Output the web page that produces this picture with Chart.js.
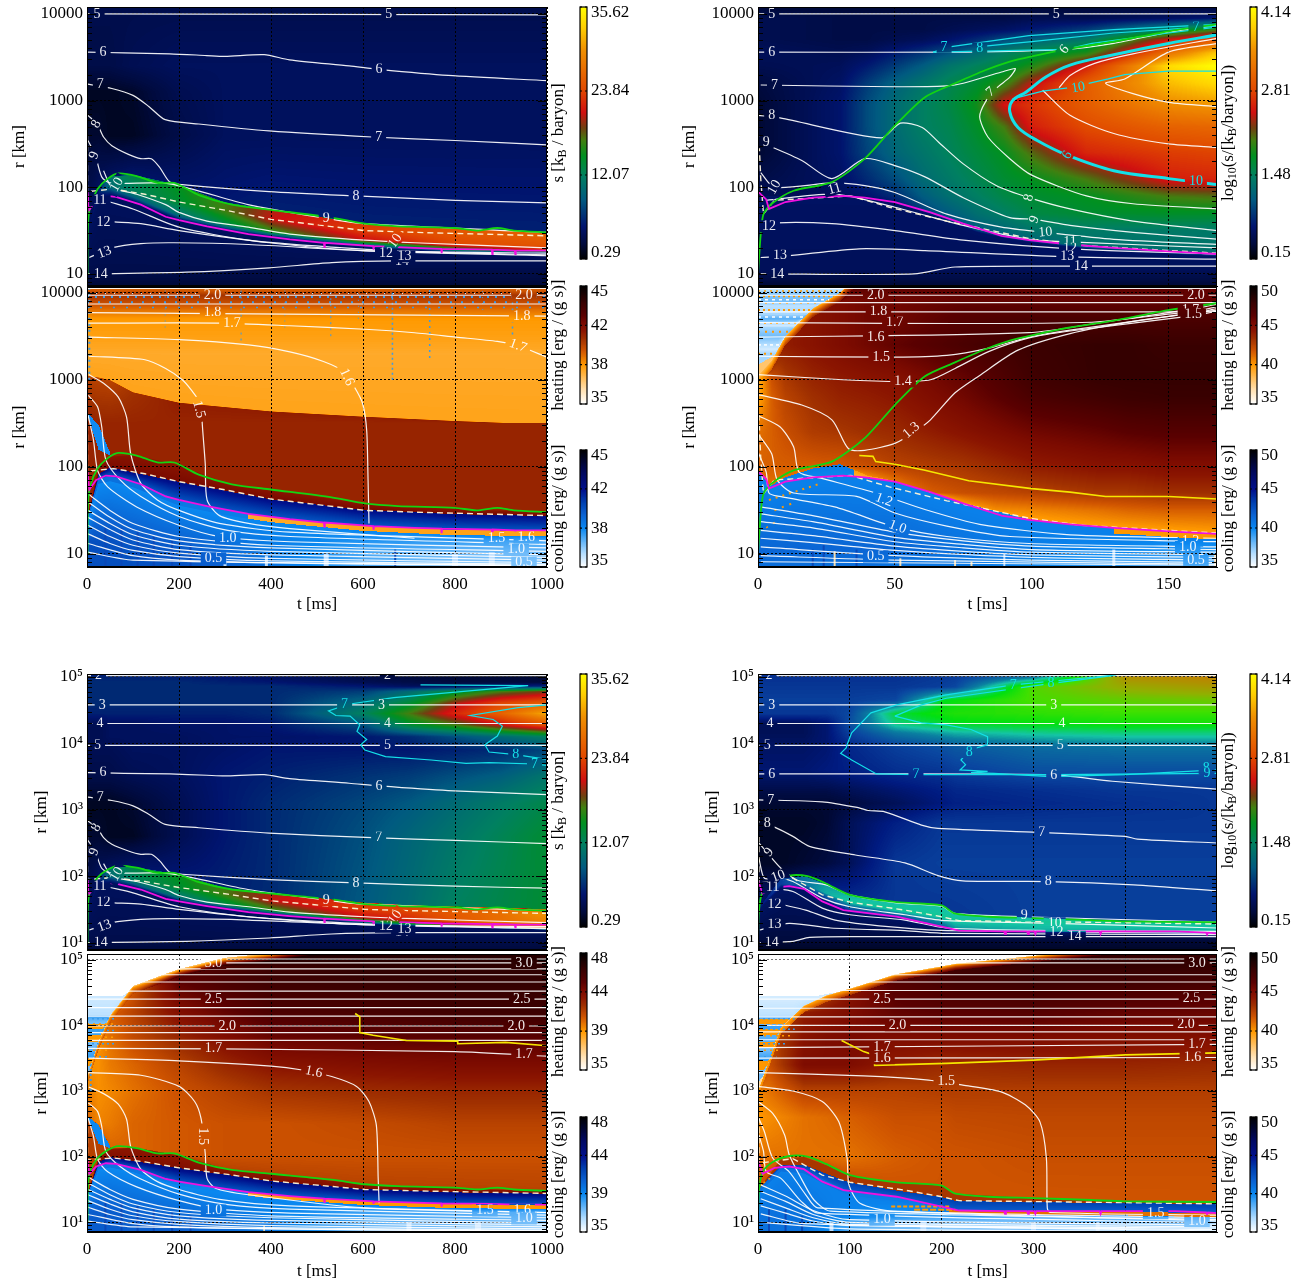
<!DOCTYPE html>
<html>
<head>
<meta charset="utf-8">
<script src="https://cdn.jsdelivr.net/npm/chart.js@4"></script>
<style>
body { margin: 0; background: #fff; width: 1306px; height: 1283px; overflow: hidden; }
canvas { position: absolute; }
</style>
</head>
<body>
<script>
const serif = '"Liberation Serif", serif';

// axis and colour bar ticks
const t1000Ticks = [0,200,400,600,800,1000];
const t168Ticks = [0,50,100,150];
const t500Ticks = [0,100,200,300,400];
const sTicks = [0.29, 12.07, 23.84, 35.62];
const logsTicks = [0.15, 1.48, 2.81, 4.14];
const q45Ticks = [35, 38.33, 41.67, 45];
const q50Ticks = [35, 40, 45, 50];
const q48Ticks = [35, 39.33, 43.67, 48];

// colour maps, fraction of the bar and colour
const entropyStops = [[0,'#000000'],[.06,'#000a3c'],[.13,'#00146e'],[.235,'#005a80'],[.33,'#008060'],[.41,'#009020'],[.47,'#408010'],[.52,'#704010'],[.58,'#d01010'],[.67,'#e04800'],[.83,'#f09000'],[.92,'#ffd000'],[1,'#ffff00']];
const brightStops = [[0,'#000000'],[.06,'#000a3c'],[.13,'#001a80'],[.2,'#0a46a0'],[.28,'#0a80a0'],[.33,'#14c4a4'],[.41,'#00e010'],[.47,'#40e000'],[.55,'#90b000'],[.65,'#c08000'],[.8,'#e05000'],[1,'#ffff00']];
const heatStops = [[0,'#ffffff'],[.12,'#ffe0b0'],[.33,'#ff9900'],[.45,'#d05500'],[.55,'#a03000'],[.62,'#8b1500'],[.68,'#7a0a00'],[.75,'#5a0000'],[.85,'#3a0000'],[1,'#000000']];
const coolStops = [[0,'#ffffff'],[.12,'#b0dcff'],[.33,'#0a88f0'],[.45,'#0a60d0'],[.55,'#0040b0'],[.66,'#00108c'],[.8,'#000860'],[1,'#000000']];

// model 1, 0 to 1000 ms, r up to 1e4 km
const aT = [0,25,50,100,200,300,400,600,800,1000];
const aGreenK = [1.4,1.99,2.12,2.14,2.02,1.82,1.74,1.58,1.52,1.48];
const aMagK = [1.4,1.87,1.90,1.83,1.62,1.51,1.43,1.33,1.28,1.27];
const aDashK = [1.4,1.92,2.0,1.94,1.83,1.73,1.63,1.51,1.46,1.44];
const aGreen = [1,1.0,2,1.55,7,1.78,23,1.98,45,2.10,68,2.16,108,2.13,153,2.05,190,2.05,243,1.91,315,1.80,400,1.74,532,1.65,604,1.58,676,1.55,800,1.53,847,1.50,892,1.53,928,1.50,1000,1.48];
const aMagenta = [1,1.95,5,1.74,20,1.85,41,1.90,63,1.89,117,1.80,171,1.66,200,1.62,261,1.55,351,1.46,441,1.40,515,1.36,516,1.31,517,1.36,622,1.32,623,1.28,624,1.32,712,1.30,770,1.29,771,1.24,772,1.29,880,1.28,881,1.23,882,1.28,930,1.27,931,1.23,932,1.27,1000,1.27];
const aDash = [1,2.6,1,1.95,58,1.98,126,1.92,200,1.83,306,1.73,400,1.63,495,1.57,604,1.50,712,1.48,1000,1.44];

const a6 = [2,3.56,80,3.55,180,3.54,260,3.52,300,3.51,385,3.53,440,3.47,570,3.40,635,3.36,785,3.29,1000,3.23];
const a7 = [2,3.19,54,3.14,100,3.06,135,2.93,170,2.78,243,2.73,396,2.65,620,2.58,800,2.54,1000,2.49];
const a8 = [2,2.83,22,2.73,36,2.58,54,2.48,90,2.38,117,2.33,140,2.33,158,2.23,180,2.06,207,2.03,396,1.95,585,1.90,800,1.85,1000,1.82];
const a9 = [2,2.54,18,2.37,32,2.12,50,2.05,180,2.04,350,1.80,520,1.64,600,1.58,1000,1.48];
const a10 = [36,2.19,54,2.0,108,1.92,171,1.80,200,1.71,261,1.61,351,1.54,441,1.46,604,1.39,712,1.36,1000,1.30];
const a11 = [50,1.83,100,1.75,200,1.54,351,1.39,532,1.31,712,1.26,1000,1.24];
const a12 = [59,1.60,117,1.58,200,1.50,396,1.36,595,1.27,1000,1.21];
const a13 = [5,1.19,54,1.30,117,1.35,189,1.36,351,1.34,604,1.27,1000,1.22];
const a14 = [2,1.0,216,1.02,396,1.07,532,1.13,676,1.15,1000,1.15];
const aLower = [a6,a7,a8,a9,a10,a11,a12,a13,a14];
const aLabels = [['6',35,3.56],['6',635,3.36],['7',29,3.19],['7',634,2.58],['8',20,2.73,-60],['9',16,2.37,-70],['10',65,2.03,-60],['8',585,1.90],['9',520,1.64],['10',670,1.38,-55],['11',28,1.85],['12',36,1.60],['13',38,1.25,-20],['14',30,1.0],['14',685,1.15],['12',650,1.24],['13',690,1.2]];

const aRadii = [.8,1.05,off(aMagK,-.03),aMagK,off(aMagK,.06),aDashK,aGreenK,off(aGreenK,.008),2.6,3.1,3.4,4.1];
const aVals = [2,3.2,4,[4,4,4,4,4.5,5,5,8,14,22],[4,5,7,9,10.5,13,16,20.5,24,25],[4,5,10,12,14,17,20.5,23.5,25,26],[4,5,11,13,15,17,20,23,25,25.5],[4,4,4,4.5,4.5,5,5.5,5.5,5.5,5.5],[2,2,1.5,1.5,3,4,4,4,4,4],[1.5,1.5,1.5,1.8,3.4,4,4,4,4,4],[3,3,3,3.5,4,4,4,4,4,4],3.2];

// temperature contours for the 1000 ms heating panels
const c14 = [4,3.06,36,2.96,68,2.80,86,2.57,95,2.15,117,1.81,153,1.62,200,1.50,288,1.35,441,1.25,1000,1.15];
const c13 = [3,2.82,23,2.69,32,2.46,41,2.08,72,1.85,117,1.66,200,1.43,306,1.27,441,1.2,1000,1.11];
const c12 = [2,2.6,14,2.31,23,1.96,45,1.77,108,1.54,200,1.33,288,1.2,441,1.14,1000,1.07];
const cFamily = [
  [2,1.69,50,1.50,100,1.35,200,1.2,400,1.1,1000,1.03],
  [2,1.60,50,1.42,100,1.28,200,1.15,400,1.07,1000,.99],
  [2,1.50,50,1.35,100,1.22,200,1.1,400,1.03,1000,.96],
  [2,1.42,50,1.28,100,1.16,200,1.05,400,.99,1000,.93],
  [2,1.33,50,1.2,100,1.1,200,1.01,400,.95,1000,.90],
  [2,1.23,50,1.12,100,1.04,200,.97,400,.92,1000,.88],
  [2,1.12,100,.98,200,.93,400,.9,1000,.87],
  [2,1.02,100,.93,1000,.86]
];
const cTop = [
  [0,4.05,1000,4.05],[0,3.97,1000,3.97],[0,3.87,1000,3.87],[0,3.77,1000,3.73],
  [3,3.65,290,3.65,441,3.62,604,3.58,712,3.54,802,3.49,892,3.44,937,3.39,1000,3.26],
  [4,3.49,200,3.46,351,3.40,441,3.32,514,3.21,559,3.09,581,2.92,599,2.73,608,2.42,611,1.85,613,1.35],
  [4,3.27,126,3.23,171,3.13,207,3.0,227,2.88,250,2.70,250,2.54,257,2.04,261,1.62,288,1.44,351,1.35,441,1.29,712,1.18]
];
const cLabels = [['2.0',273,3.97],['2.0',950,3.97],['1.8',273,3.77],['1.8',945,3.73],['1.7',315,3.65],['1.7',937,3.39,20],['1.6',565,3.03,65],['1.5',243,2.66,75],['1.0',306,1.18],['0.5',275,.95],['1.5',890,1.18],['1.6',955,1.19],['1.0',933,1.05],['0.5',950,.9]];
const cBand = [3.05,3.03,3.0,2.86,2.74,2.69,2.64,2.58,2.53,2.49];
const wedgeLow = [2.62,2.2,2.13,1,1,1,1,1,1,1];
const wedgeHigh = [2.62,2.48,2.16,1,1,1,1,1,1,1];
const cRadii = [.8,1.0,1.15,off(aMagK,-.07),off(aMagK,-.06),off(aMagK,-.012),aMagK,off(aDashK,-.008),aDashK,off(aGreenK,-.01),off(aGreenK,.005),off(wedgeLow,-.005),wedgeLow,wedgeHigh,off(wedgeHigh,.005),2.5,off(cBand,-.008),cBand,3.3,3.5,3.7,3.8,3.87,3.97,4.02,4.1];
const cVals = [[-40,-40,-40,-40,-40,-39.5,-39,-37.5,-36.8,-36.8],[-40,-40,-40,-40,-39.8,-39.3,-38.8,-37.5,-37,-37],[-40,-40,-40,-39.8,-39.5,-39,-38.6,-38,-37.8,-37.5],-38.3,[-39,-39,-39,-39,-38.8,-38.6,37.8,38,38,38],[-39,-39,-39,-39,-38.8,-38.6,37.8,38,38,38],-40,-41.8,41.8,41.3,40.8,40.8,-38.2,-38.2,40.8,40.8,[40,40,40,40.5,41,41,41,41,41,41],38,37.8,38.1,38.3,39,39.6,40.4,39.5,38.8];
const cSpecks = [
  ['#3a9be8',[2,6],2,[0,3.95,1000,3.95]],['#3a9be8',[2,9],2,[0,3.89,1000,3.89]],['#3a9be8',[2,11],1.5,[0,3.83,1000,3.83]],['#cfe6ff',[1,8],1,[0,3.99,1000,3.99]],
  ['#3a9be8',[2,3],1.5,[664,3.0,664,4.05]],['#3a9be8',[2,4],1,[335,3.45,335,4.05]],['#3a9be8',[2,4],1,[530,3.5,530,4.05]],['#3a9be8',[2,4],1.5,[745,3.25,745,4.05]],['#3a9be8',[2,4],1.5,[925,3.45,925,4.05]],['#3a9be8',[2,4],2,[5,3.0,5,4.05]],['#3a9be8',[1,5],1,[170,3.6,170,4.05]],['#3a9be8',[1,5],1,[430,3.6,430,4.05]],['#3a9be8',[1,5],1,[590,3.7,590,4.05]],['#3a9be8',[1,5],1,[860,3.8,860,4.05]],
  ['#0a48b8',[],2,[40,.85,40,1.3]],['#0a48b8',[],2,[75,.85,75,1.3]],['#0a48b8',[],2,[110,.85,110,1.25]],['#0a48b8',[],2,[145,.85,145,1.2]],['#0a48b8',[],2,[185,.85,185,1.15]],['#0a48b8',[],2,[225,.85,225,1.1]],['#0a48b8',[],2,[670,.85,670,1.05]],
  ['#b8dcff',[],3,[300,.85,300,.95]],['#b8dcff',[],3,[390,.85,390,.98]],['#f2dcb0',[],1.5,[390,.85,390,.95]],['#b8dcff',[],5,[520,.85,520,1.0]],['#b8dcff',[],6,[800,.85,800,1.0]],['#b8dcff',[],6,[880,.85,880,1.02]]
];

// model 2, 0 to 168 ms
const bT = [0,30,40,50,60,70,80,90,100,120,150,168];
const bMagK = [1.9,1.90,1.88,1.83,1.74,1.63,1.51,1.44,1.39,1.32,1.26,1.23];
const bRadii = [.8,1.05,off(bMagK,-.03),bMagK,1.5,1.7,1.9,2.1,2.4,2.7,2.95,3.2,3.4,3.55,3.7,3.82,3.95,4.1];
const bVals = [.3,.55,.6,[.6,.6,.6,.7,.8,.9,1.0,1.1,1.2,1.3,1.3,1.3],
  [.55,.55,.6,.7,.85,1.0,1.1,1.2,1.35,1.4,1.4,1.4],
  [.55,.55,.6,.7,.9,1.1,1.3,1.45,1.6,1.7,1.75,1.75],
  [.5,.55,.65,.8,1.1,1.3,1.45,1.6,1.7,1.8,2.05,2.1],
  [.45,.6,.8,1.0,1.25,1.4,1.55,1.7,1.8,2.05,2.55,2.6],
  [.35,.65,.95,1.2,1.35,1.5,1.65,1.8,2.1,2.6,2.75,2.8],
  [.35,.65,1.0,1.25,1.45,1.55,1.75,2.05,2.55,2.85,3.05,3.1],
  [.35,.65,1.0,1.25,1.45,1.6,1.85,2.5,2.7,3.0,3.4,3.5],
  [.4,.6,.9,1.15,1.35,1.55,1.7,1.95,2.4,3.0,3.7,3.9],
  [.5,.55,.7,.9,1.1,1.35,1.5,1.65,1.9,2.55,3.9,4.14],
  [.55,.5,.55,.7,.85,1.05,1.25,1.45,1.6,1.9,3.2,3.8],
  [.5,.45,.45,.5,.55,.65,.8,1.0,1.15,1.4,2.5,3.0],
  [.5,.45,.45,.45,.45,.5,.55,.6,.7,.9,1.5,2.0],
  [.5,.45,.45,.45,.45,.45,.45,.45,.5,.5,.6,.7],.35];
const bGreen = [0,1.0,1,1.46,2,1.69,5,1.81,13,1.96,27,2.06,39,2.33,50,2.71,61,3.04,72,3.2,83,3.35,92,3.45,100,3.51,114,3.60,130,3.68,150,3.80,168,3.88];
const bMagenta = [0,1.95,3,1.86,4,1.75,10,1.83,20,1.88,31,1.90,39,1.88,50,1.83,63,1.71,75,1.58,89,1.44,99,1.39,114,1.34,130,1.30,150,1.26,168,1.23];
const bDash = [.3,2.6,1,2.1,2,1.69,6,1.85,34,1.90,48,1.77,69,1.61,99,1.41,118,1.33,150,1.27,168,1.24];
const bWhite = [
  [0,4,168,4],
  [0,3.56,76,3.56,112,3.59,130,3.66,150,3.79,168,3.87],
  [1,3.18,50,3.16,69,3.17,75,3.2,89,3.33,94,3.37,92,3.27,87,3.14,83,2.98,81,2.81,84,2.58,92,2.33,100,2.14,120,1.9,137,1.81,168,1.75],
  [0,2.83,8,2.80,45,2.57,52,2.74,60,2.69,66,2.52,75,2.27,87,2.02,99,1.88,114,1.75,137,1.61,168,1.5],
  [1,2.52,16,2.31,27,2.10,39,2.33,50,2.25,61,2.12,75,1.88,92,1.65,101,1.63,114,1.56,137,1.48,168,1.40],
  [1,2.17,6,2.0,27,2.05,39,2.02,50,1.94,69,1.69,89,1.54,105,1.48,130,1.40,168,1.34],
  [3,1.85,28,1.92,50,1.77,75,1.56,99,1.40,114,1.37,168,1.30],
  [1,1.54,7,1.59,27,1.58,50,1.50,75,1.39,114,1.29,168,1.23],
  [1,1.19,11,1.21,37,1.29,61,1.27,111,1.20,168,1.17],
  [1,1.0,57,1.0,72,1.08,114,1.09,168,1.09],
  [110,3.15,114,3.29,123,3.43,137,3.54,168,3.72],
  [168,3.66,150,3.56,134,3.25,127,3.20,137,3.08,150,2.98,168,2.93],
  [104,3.12,114,2.83,130,2.62,150,2.50,168,2.46]
];
const bCyanThin = [
  [64,3.56,70,3.62,99,3.75,130,3.82,168,3.88],
  [80,3.62,100,3.68,130,3.78,168,3.86],
  [64,3.56,112,3.59,122,3.66,150,3.78,168,3.85],
  [93,3.02,104,3.11,114,3.15,128,3.25,134,3.30,150,3.34,168,3.34]
];
const bArc = [168,3.76,150,3.66,130,3.53,114,3.41,105,3.27,98,3.10,93,3.0,92,2.87,95,2.69,102,2.54,113,2.37,130,2.19,150,2.10,168,2.03];
const bLabels = [['5',5,4],['5',109,4],['6',5,3.56],['7',6,3.18],['8',5,2.83],['9',3,2.52],['10',6,2.0,-60],['12',4,1.55],['13',8,1.21],['14',7,1.0],['7',85,3.1,-40],['8',99,1.88,-75],['9',101,1.63,-70],['10',105,1.48,-5],['11',114,1.37],['12',114,1.29],['13',113,1.2],['14',118,1.09],['6',112,3.59,-50],['11',28,1.98,-15]];
const bCyanLabels = [['7',68,3.62],['8',81,3.6],['10',117,3.15,-10],['6',113,2.37,-60],['10',160,2.07],['7',160,3.84]];

// heating and cooling of model 2
const dT = [0,5,10,20,30,40,50,75,100,125,135,150,168];
const dMag = [1.95,1.75,1.83,1.88,1.90,1.88,1.83,1.58,1.39,1.31,1.29,1.26,1.23];
const dWedgeTop = [1.7,1.79,1.88,1.98,2.03,1.9,1.84,1.59,1.40,1.32,1.30,1.27,1.24];
const dFront = [3.05,3.22,3.5,3.82,4.0,4.3,4.5,4.8,5,5,5,5,5];
const dRadii = [.8,1.05,off(dMag,-.07),off(dMag,-.06),off(dMag,-.012),dMag,off(dMag,.004),dWedgeTop,1.5,1.7,2.0,2.4,2.8,3.05,3.4,3.7,3.9,4.05,off(dFront,-.1),off(dFront,-.01),off(dFront,-.002),dFront,3.3,3.35,3.5,3.6,3.62,3.7,3.75,3.85,3.9,4.0,4.05,5.2];
const dVals = [[-41,-41,-41,-41,-41,-41,-40.5,-40.5,-40,-39,-39,-38.5,-38.5],[-41.5,-41.5,-41.5,-41.5,-41.5,-41.5,-41.5,-41,-40.5,-40,-40,-39.5,-39.5],-40.3,
  [-40.3,-40.3,-40.3,-40.3,-40.3,-40.3,-40.3,-40.3,-40.3,-40.3,40,40,40],[-40.3,-40.3,-40.3,-40.3,-40.3,-40.3,-40.3,-40.3,-40.3,-40.3,40,40,40],-40.3,
  [-40,-40,-40,-40,-40,39,39,39,38.5,38.5,38.5,38.5,38.5],[-40.5,-40.5,-40.5,-40.5,-40.5,39.8,39.8,39.8,39.8,39.8,39.8,39.8,39.8],
  [41,41,41,41,41,40.5,40,40,40.5,41,41.3,41.5,41.5],[41,41,41,41,41,40.5,41,42,42.5,43,43,43.3,43.3],[41.5,41.5,41.5,41.5,41.7,42,42.5,43,44,44.5,44.5,44.8,44.8],
  [41,41.5,42,42.8,43,43.3,43.5,44.5,45.5,46,46.3,46.5,46.5],[39.5,41.5,42.5,43.3,43.8,44,44.3,45.5,47,47.5,47.7,47.8,47.8],[39,42,43,43.8,44.2,44.5,44.7,46,47.5,48,48,48,48],
  [42,43,44,44.5,45,45.5,46,47,47.7,48,48,47.8,47.8],[43,43,44,44.5,45,45.5,45.5,46.5,47,47,47,47,47],[44,44,44,44.5,45,45.5,45.5,46,46,46,46,46,46],46,
  [40,41.5,42.5,43.5,44.5,45,46,46,46,46,46,46,46],[38.5,39,39.5,39.5,40,46,46,46,46,46,46,46,46],38.2,38,
  -37,-36,-38,-37,-36,-38.5,-37,-36.5,-38,-37.5,-36,-37,-37];
const dWhite = [
  [0,4.05,168,4.05],[0,3.97,168,3.97],[0,3.885,168,3.885],[0,3.78,168,3.78],
  [0,3.655,122,3.66,160,3.82,168,3.87],
  [0,3.49,99,3.54,130,3.68,160,3.79,168,3.84],
  [0,3.27,50,3.26,69,3.28,84,3.36,99,3.49,114,3.57,160,3.77,168,3.82],
  [0,3.06,31,3.0,52,2.98,63,3.0,72,3.13,84,3.32,99,3.48,114,3.56,160,3.74,168,3.79],
  [0,2.83,16,2.71,27,2.54,33,2.21,39,2.19,50,2.27,58,2.42,63,2.54,72,2.85,81,3.05,95,3.34,114,3.53,137,3.67,160,3.77,168,3.8],
  [0,2.59,8,2.46,13,2.23,15,1.94,23,1.87,43,1.70,61,1.51,81,1.34,114,1.22,168,1.18],
  [0,2.38,5,2.15,7,1.85,13,1.70,36,1.66,50,1.47,69,1.32,92,1.2,168,1.14],
  [0,2.17,3,1.94,4,1.70,8,1.66,28,1.54,50,1.31,69,1.20,99,1.12,168,1.08],
  [1,1.54,20,1.44,50,1.25,75,1.15,100,1.09,168,1.05],
  [1,1.46,20,1.37,50,1.19,75,1.11,100,1.05,168,1.02],
  [1,1.37,20,1.3,50,1.14,75,1.07,100,1.02,168,.99],
  [1,1.27,20,1.21,50,1.09,75,1.03,100,.99,168,.96],
  [1,1.18,20,1.13,50,1.04,100,.96,168,.93],
  [1,1.08,50,.98,100,.93,168,.90],
  [1,.98,50,.93,168,.88],
  [1,.91,168,.87]
];
const dYellow = [37,2.13,42,2.12,43,2.06,50,2.03,61,1.96,77,1.84,100,1.75,114,1.71,127,1.66,150,1.66,168,1.63];
const dLabels = [['2.0',43,3.97],['2.0',160,3.97],['1.8',44,3.78],['1.7',50,3.655],['1.6',43,3.49],['1.5',45,3.26],['1.4',53,2.98],['1.3',56,2.42,-40],['1.2',46,1.62,20],['1.0',51,1.31,20],['0.5',43,.97],['1.2',158,1.15],['1.0',157,1.08],['0.5',160,.93],['1.7',158,3.8],['1.5',159,3.75]];
const dSpecks = [
  ['#ff9900',[2,4],2,[0,3.3,6,3.3]],['#ffffff',[3,3],1.5,[0,3.4,8,3.4]],['#ff9900',[2,5],2,[0,3.55,11,3.55]],['#ff9900',[2,4],1.5,[0,3.65,15,3.65]],['#ffffff',[3,4],1.5,[0,3.72,17,3.72]],['#ff9900',[2,3],2,[0,3.8,20,3.8]],['#ff9900',[2,5],1.5,[0,3.88,23,3.88]],['#ffffff',[3,4],1.5,[0,3.92,26,3.92]],['#ff9900',[2,3],2,[0,3.96,28,3.96]],['#ff9900',[2,4],1.5,[0,4.02,30,4.02]],
  ['#ff9900',[2,5],2,[4,1.62,22,1.8]],['#ff9900',[2,6],2,[6,1.5,14,1.6]],['#ff9900',[2,6],1.5,[3,1.3,8,1.4]],
  ['#f2dcb0',[],2,[28,.86,28,1.03]],['#f2dcb0',[],2,[52,.86,52,.95]],['#f2dcb0',[],2,[72,.86,72,.93]],['#f2dcb0',[],2,[78,.86,78,.91]],['#f2dcb0',[],2,[167,.86,167,1.0]],['#b8dcff',[],3,[130,.86,130,1.05]],['#b8dcff',[],2,[90,.86,90,1.0]],
  ['#0a48b8',[],2,[20,.86,20,1.05]],['#0a48b8',[],2,[24,.86,24,1.1]],['#0a48b8',[],2,[36,.86,36,1.05]]
];

// model 1 with the outer ejecta, up to 1e5 km
const eT = [0,25,50,100,200,300,400,600,700,800,900,1000];
const eGreenK = [1.4,1.99,2.12,2.14,2.02,1.82,1.74,1.6,1.56,1.54,1.52,1.5];
const eMagK = [1.4,1.87,1.90,1.83,1.62,1.51,1.43,1.31,1.28,1.26,1.24,1.22];
const eDashK = [1.4,1.92,2.0,1.94,1.83,1.73,1.63,1.52,1.49,1.47,1.45,1.44];
const eRadii = [.8,1.05,off(eMagK,-.03),eMagK,off(eMagK,.06),eDashK,eGreenK,off(eGreenK,.008),2.6,3.1,3.5,3.9,4.1,4.28,4.45,4.6,4.78,4.86,4.92,5.1];
const eVals = [2,3.2,4,[4,4,4,4,4.5,5,5,10,14,18,22,26],[4,5,7,9,10.5,13,16,20.5,22,25,27,28],[4,5,10,12,14,17,20.5,23.5,24,25.5,27,30],[4,5,11,13,15,17,20,23,23,24.5,26,26],
  [4,4,4,4.5,5,5.5,6,8.5,10,12,13,14],[2,2,1.5,1.5,3.5,5,6,8,9.5,11,12.5,14],[1.5,1.5,1.5,2,3.5,5,6,7.5,8.5,10,11.5,13],[3,3,3,3.5,4,5,5.5,6.5,7,8,9,11],
  [3.5,3.5,3.5,4,4,4.5,5,5,5,5.5,6,7.5],[3.5,3.5,4,4,4,4.5,4.5,5,6,8,10,12],[3.5,3.5,4,4,4.5,4.5,5,8,14,17,21,25],[5.5,5.5,5.5,5.5,5.5,5.5,6,12,17,22,26,31],
  [6,6,6,6,6,6,6,10,14,20,24,26],[6,6,6,6,6,6,6,7,10,14,17,19],[6,6,6,6,6,6,6,5,4,4,5,6],[6,6,6,6,6,5.5,5,3.5,3,2.5,2.5,2.5],[5,5,5,5,4.5,4,3,2,1.5,1.5,1.5,1.5]];
const eFlat = [[0,5.02,1000,5.02],[0,4.58,1000,4.58],[0,4.30,1000,4.30],[0,3.97,1000,3.97]];
const eCyan = [
  [725,4.88,959,4.87,667,4.69,568,4.59,525,4.49,541,4.42,572,4.41,593,4.28,587,4.18,608,4.06,595,3.98,604,3.90,649,3.80,748,3.75,824,3.70,874,3.71,973,3.69,1000,3.67],
  [1000,4.58,937,4.54,833,4.42,883,4.36,903,4.26,892,4.11,865,3.98,874,3.87,932,3.83,1000,3.76]
];
const eLabels = [['2',25,5.02],['2',653,5.02],['3',33,4.58],['3',640,4.58],['4',28,4.30],['4',653,4.30],['5',23,3.97],['5',653,3.97]];
const eCyanLabels = [['7',560,4.59],['8',932,3.83],['7',973,3.69]];

// heating and cooling, outer ejecta
const fFront = [3.2,3.75,4.15,4.6,4.86,5.03,5.1,5.3,5.4,5.4];
const fRadii = [.8,1.0,1.15,off(aMagK,-.07),off(aMagK,-.06),off(aMagK,-.012),aMagK,off(aDashK,-.008),aDashK,off(aGreenK,-.01),off(aGreenK,.005),off(wedgeLow,-.005),wedgeLow,wedgeHigh,off(wedgeHigh,.005),2.0,2.5,3.0,3.4,3.8,4.2,4.6,4.9,off(fFront,-.12),off(fFront,-.03),off(fFront,-.004),fFront,3.3,3.45,3.55,3.7,3.8,3.9,4.0,4.05,4.14,4.16,4.4,4.5,5.6];
const fVals = [[-41,-41,-41,-41,-41,-40.5,-40,-38,-37.5,-37],[-41,-41,-41,-41,-40.8,-40.3,-39.8,-38.2,-37.8,-37.5],[-41,-41,-41,-40.8,-40.5,-40,-39.5,-38.5,-38.2,-38],-39.3,
  [-40,-40,-40,-40,-39.6,-39.3,39,39.3,39.3,39.3],[-40,-40,-40,-40,-39.6,-39.3,39,39.3,39.3,39.3],-41.5,-44,43.5,43,41.5,41.5,-39.3,-39.3,41.5,
  [40.5,40.5,40.5,40.5,40.8,41,41,41,41,41],[40.5,39.8,40,40.5,40.8,41,41,41.2,41.5,41.5],[40,39.5,39.7,40.2,41,41.5,42,42.3,42.5,42.5],[39.5,39.5,40,40.5,41.5,42.5,43.2,43.5,43.7,43.7],
  [39.5,39.5,40.2,41.2,42.5,43.5,44.3,44.6,44.8,44.8],[39.5,39.5,40.5,41.5,43.5,44.5,45.3,45.5,45.8,46],[39.5,39.5,40.5,41,44.5,45.3,45.8,46,46.2,46.2],[39.5,39.5,40.5,41,45,45.5,46,46.5,46.5,46.5],
  [40.5,41,41,41.5,46,46.5,47,47,47,47],39.5,37.5,37,
  -37.5,39.3,-38.5,-37.5,39.3,-38.5,39.3,-37.5,-38.5,-36.3,-36,35,35];
const fFlat = [5.08,5.01,4.95,4.86,4.77,4.66,4.52,4.40,4.27,4.14,3.99,3.89,3.77];
const fWhite = [
  [0,3.65,290,3.64,800,3.6,1000,3.53],
  [4,3.50,200,3.46,400,3.38,468,3.32,532,3.22,586,3.07,613,2.84,629,2.48,633,1.67,635,1.29],
  [4,3.28,117,3.24,200,3.07,234,2.84,248,2.58,257,2.05,261,1.67,279,1.52,351,1.42,604,1.22,1000,1.15],
  c14,c13,c12
];
const fYellow = [583,4.18,593,4.13,593,3.89,622,3.85,694,3.77,806,3.76,806,3.72,910,3.74,1000,3.69];
const fLabels = [['3.0',275,4.95],['3.0',950,4.95],['2.5',275,4.40],['2.5',945,4.40],['2.0',305,3.99],['2.0',933,3.99],['1.7',275,3.65],['1.7',950,3.56],['1.6',493,3.29,12],['1.5',252,2.31,90],['1.0',275,1.18],['1.5',865,1.18],['1.6',946,1.19],['1.0',950,1.06]];
const fSpecks = [
  ['#3a9be8',[2,4],1.5,[0,3.52,50,3.52]],['#ff9900',[2,4],1.5,[0,3.62,50,3.62]],['#3a9be8',[2,3],1.5,[0,3.72,60,3.72]],['#ff9900',[2,4],1.5,[0,3.82,60,3.82]],['#3a9be8',[2,3],1.5,[0,3.92,60,3.92]],['#ff9900',[2,4],1.5,[0,4.02,60,4.02]],['#3a9be8',[2,3],1.5,[0,4.1,60,4.1]],
  ['#3a9be8',[2,3],2,[8,3.0,8,3.45]],
  ['#0a48b8',[],2,[40,.85,40,1.3]],['#0a48b8',[],2,[75,.85,75,1.3]],['#0a48b8',[],2,[110,.85,110,1.25]],['#0a48b8',[],2,[145,.85,145,1.2]],['#0a48b8',[],2,[185,.85,185,1.15]],['#0a48b8',[],2,[225,.85,225,1.1]],
  ['#b8dcff',[],5,[700,.85,700,1.0]],['#b8dcff',[],6,[850,.85,850,1.0]],['#f2dcb0',[],1.5,[385,.85,385,.95]]
];

// model 3, 0 to 500 ms, entropy
const gT = [0,25,50,75,100,150,200,215,300,400,500];
const gGreenK = [1.5,1.96,2.0,1.87,1.72,1.61,1.56,1.44,1.37,1.32,1.31];
const gMagK = [1.5,1.84,1.81,1.63,1.47,1.39,1.24,1.19,1.17,1.17,1.14];
const gDashK = [1.5,1.88,1.88,1.74,1.61,1.49,1.39,1.33,1.31,1.30,1.28];
const gRadii = [.8,1.06,off(gMagK,-.02),gMagK,gDashK,gGreenK,off(gGreenK,.008),2.2,2.8,3.1,3.3,3.6,3.95,4.15,4.3,4.45,4.65,4.85,5.05,5.2];
const gVals = [.25,.4,.55,[.6,.65,.7,.7,.8,.9,1.1,1.3,1.4,1.4,1.4],[.6,.9,1.2,1.4,1.5,1.5,1.5,1.5,1.5,1.5,1.5],[.6,.9,1.2,1.35,1.42,1.45,1.45,1.45,1.45,1.45,1.45],[.6,.45,.5,.65,.75,.85,.85,.85,.9,.9,.9],
  [.3,.3,.35,.4,.5,.85,.9,.9,.9,.9,.9],[.3,.3,.3,.35,.5,.7,.85,.85,.85,.85,.85],[.35,.35,.35,.35,.4,.5,.65,.7,.75,.8,.85],[.45,.45,.45,.45,.5,.6,.7,.75,.8,.85,.85],
  [.6,.6,.6,.65,.7,.8,.85,.9,1.0,1.0,1.0],[.55,.55,.55,.6,.75,.9,1.0,1.05,1.15,1.2,1.2],[.5,.5,.5,.6,.9,1.2,1.35,1.4,1.5,1.55,1.55],[.5,.5,.5,.6,1.0,1.55,1.7,1.75,1.8,1.85,1.85],
  [.85,.85,.85,.85,.95,1.7,1.85,1.9,1.95,2.0,2.0],[.9,.9,.9,.9,.9,.95,1.75,1.8,2.05,2.15,2.2],[.85,.85,.85,.85,.85,.85,.9,.95,2.1,2.4,2.55],[.8,.8,.8,.8,.8,.8,.85,.85,.9,2.7,2.8],[.8,.8,.8,.8,.8,.8,.85,.85,.9,2.7,2.8]];
const gGreen = [0,1.015,1,1.47,5,1.77,16,1.92,34,2.01,54,2.0,74,1.89,100,1.72,151,1.61,200,1.56,214,1.44,251,1.39,300,1.37,363,1.34,400,1.32,500,1.31];
const gMagenta = [0,1.94,5,1.74,18,1.83,34,1.85,50,1.81,70,1.62,93,1.49,151,1.39,200,1.24,219,1.18,268,1.17,269,1.13,270,1.17,293,1.17,294,1.13,295,1.17,301,1.17,302,1.13,303,1.17,372,1.17,373,1.13,374,1.17,454,1.17,488,1.15,489,1.12,490,1.15,500,1.14];
const gDash = [1,2.6,1,1.9,38,1.97,70,1.72,100,1.61,160,1.49,200,1.39,219,1.33,400,1.30,500,1.28];
const gWhite = [
  [0,5.02,500,5.02],[0,4.58,500,4.58],[0,4.30,500,4.30],[0,3.97,500,3.97],
  [0,3.54,318,3.53,386,3.43,500,3.31],
  [0,3.15,70,3.12,110,3.03,120,2.99,138,2.97,178,2.77,196,2.72,305,2.66,400,2.60,413,2.56,500,2.50],
  [1,2.82,18,2.74,38,2.60,56,2.45,106,2.32,160,2.2,196,2.01,223,1.93,316,1.92,409,1.87,500,1.78],
  [1,2.5,9,2.37,25,2.12,43,1.94,74,1.87,100,1.72,151,1.60,200,1.55,214,1.44,290,1.39,500,1.31],
  [1,2.27,7,1.97,23,1.98,38,1.92,70,1.67,100,1.54,160,1.42,205,1.33,323,1.29,500,1.22],
  [16,1.82,38,1.77,70,1.52,100,1.42,160,1.34,205,1.22,341,1.18,500,1.17],
  [27,1.57,52,1.49,84,1.34,142,1.24,205,1.18,500,1.14],
  [2,1.19,34,1.29,79,1.22,160,1.18,205,1.14,500,1.12],
  [2,1.0,38,1.02,56,1.08,115,1.09,500,1.09]
];
const gCyan = [
  [97,3.98,102,4.16,123,4.46,151,4.58,205,4.73,278,4.88,390,5.03],
  [149,4.41,178,4.58,205,4.68,318,4.90,386,5.02],
  [149,4.41,178,4.31,205,4.28,232,4.21,250,4.10,250,3.98,230,3.90,221,3.75,226,3.68,220,3.60,250,3.58,232,3.56,257,3.55,318,3.50,400,3.53,500,3.60],
  [97,3.98,96,3.93,90,3.85,102,3.75,129,3.54,172,3.53,318,3.53,500,3.55]
];
const gLabels = [['2',12,5.02],['3',15,4.58],['4',13,4.30],['5',10,3.97],['3',322,4.58],['4',331,4.30],['5',329,3.97],['6',15,3.54],['6',322,3.52],['7',14,3.15],['7',309,2.66],['8',10,2.8],['8',316,1.92],['9',12,2.36,-50],['10',22,2.0,-20],['11',16,1.83],['12',18,1.57],['13',18,1.27],['14',15,1.0],['14',345,1.09],['9',290,1.41],['10',323,1.29],['12',325,1.16]];
const gCyanLabels = [['7',278,4.88],['8',319,4.91],['8',230,3.87],['7',172,3.53],['8',488,3.63],['9',489,3.55]];

// model 3, heating and cooling
const hFront = [3.0,3.97,4.3,4.46,4.56,4.78,4.9,4.94,5.06,5.2,5.3];
const hRadii = [.8,1.0,1.08,off(gMagK,-.07),off(gMagK,-.06),off(gMagK,-.012),gMagK,off(gDashK,-.008),gDashK,off(gGreenK,-.01),off(gGreenK,.005),2.0,2.6,3.0,3.4,3.8,4.2,4.6,4.9,5.1,off(hFront,-.1),off(hFront,-.015),off(hFront,-.004),hFront,3.25,3.4,3.5,3.62,3.7,3.8,3.9,3.98,4.05,4.13,4.15,4.4,4.5,5.6];
const hVals = [[-41,-41,-41,-40,-38.5,-38,-37.5,-37.5,-37.5,-37.5,-37.5],[-41,-41,-41,-40,-39,-38,-37.8,-37.8,-37.8,-37.8,-37.8],[-41,-41,-41,-40.5,-40,-39.5,-39,-39,-38.5,-38.5,-38.5],-40.3,
  [-41,-41,-41,-41,-40.5,-40.5,-40.3,41,41,41,41],[-41,-41,-41,-41,-40.5,-40.5,-40.3,41,41,41,41],-42,-43.2,43,43,41.8,
  [41,41,41,41,41,41.5,41.8,41.8,42,42,42],[40,40.5,41,41.2,41.5,42,42,42.2,42.3,42.3,42.3],[40.5,41.5,42.5,42.5,42.5,42.5,42.7,42.7,42.7,42.7,42.7],[41,43,45,45,45,44,43.5,43.5,43.7,43.7,43.5],
  [41,43,44.5,45,45.2,45,45,45,45,44.8,44.8],[41,43,44,44.5,45,46,46.3,46.3,46.5,46,45.8],[41,43,43,43.5,44.5,46.5,47,47.2,47.5,47.3,47],[41,43,43,43.5,45,46.5,47.2,47.5,48,48,48],48,
  [40.5,41,41.5,42,43,45,46,46.5,47,47.5,47.5],39.8,38,37,
  -38,40,-39,-38,40,-38.5,40,-39,40,-38.5,-36.5,-36,35,35];
const hFlat = [5.08,5.01,4.95,4.77,4.66,4.53,4.40,4.26,4.13,4.0,3.90,3.78];
const hWhite = [
  [0,3.66,500,3.71],[0,3.50,500,3.51],
  [0,3.28,115,3.23,183,3.17,223,3.09,264,2.99,291,2.79,307,2.53,314,1.98,315,1.22,318,1.15,500,1.11],
  [0,3.07,38,3.0,70,2.84,88,2.53,97,1.98,99,1.57,111,1.29,147,1.17,500,1.07],
  [0,2.84,16,2.66,29,2.33,34,2.03,47,1.67,61,1.34,79,1.17,500,1.04],
  [1,2.58,7,2.38,16,1.98,34,1.77,52,1.42,65,1.22,500,1.02],
  [1,2.33,6,2.08,9,1.77,25,1.67,47,1.32,65,1.14,500,.99],
  [3,1.57,30,1.4,60,1.18,100,1.04,500,.96],
  [3,1.47,30,1.32,60,1.12,100,1.0,500,.93],
  [3,1.36,30,1.22,60,1.07,100,.97,500,.91],
  [3,1.25,30,1.14,60,1.02,100,.95,500,.89],
  [3,1.13,50,.98,500,.87],
  [3,1.0,100,.9,500,.86]
];
const hYellow = [91,3.77,115,3.60,126,3.55,127,3.39,205,3.42,300,3.47,400,3.55,500,3.58];
const hLabels = [['3.0',478,4.95],['2.5',135,4.40],['2.5',472,4.41],['2.0',152,4.0],['2.0',466,4.01],['1.7',135,3.67],['1.7',478,3.71],['1.6',135,3.50],['1.6',473,3.51],['1.5',205,3.15],['1.0',135,1.04],['1.5',433,1.14],['1.0',478,1.02]];
const hSpecks = [
  ['#3a9be8',[2,4],1.5,[0,3.52,20,3.52]],['#ff9900',[2,4],1.5,[0,3.62,25,3.62]],['#3a9be8',[2,3],1.5,[0,3.72,30,3.72]],['#ff9900',[2,4],1.5,[0,3.84,35,3.84]],['#3a9be8',[2,3],1.5,[0,3.94,40,3.94]],['#ff9900',[2,4],1.5,[0,4.02,35,4.02]],['#3a9be8',[2,3],1.5,[0,4.1,40,4.1]],
  ['#ff9900',[4,2],2,[145,1.24,210,1.24]],['#ff9900',[6,2],2,[170,1.19,215,1.19]],['#ff9900',[2,4],1.5,[4,1.72,12,1.8]],['#ff9900',[2,4],1.5,[6,1.6,14,1.68]],
  ['#0a48b8',[],2,[12,.85,12,1.2]],['#0a48b8',[],2,[30,.85,30,1.2]],['#0a48b8',[],2,[48,.85,48,1.1]],
  ['#b8dcff',[],4,[80,.85,80,1.0]],['#b8dcff',[],6,[180,.85,180,1.02]],['#b8dcff',[],5,[300,.85,300,1.0]],['#b8dcff',[],4,[370,.85,370,1.0]]
];

function off(row, d) { return row.map(v => v + d); }

function buildLut(stops) {
  const lut = [];
  const hex = s => [1,3,5].map(i => parseInt(s.substr(i,2),16));
  for (let i = 0; i <= 255; i++) {
    const f = i / 255;
    let k = 0;
    while (k < stops.length - 2 && f > stops[k+1][0]) k++;
    const u = Math.min(1, Math.max(0, (f - stops[k][0]) / (stops[k+1][0] - stops[k][0])));
    const a = hex(stops[k][1]), b = hex(stops[k+1][1]);
    lut.push(a.map((v,j) => Math.round(v + (b[j]-v)*u)));
  }
  return lut;
}
const entropyLut = buildLut(entropyStops), brightLut = buildLut(brightStops), heatLut = buildLut(heatStops), coolLut = buildLut(coolStops);
const pick = (lut, f) => lut[Math.max(0, Math.min(255, Math.round(f*255)))];

function addCanvas(l, t, w, h) {
  const c = document.createElement('canvas');
  c.width = w; c.height = h;
  c.style.left = l + 'px'; c.style.top = t + 'px';
  c.style.width = w + 'px'; c.style.height = h + 'px';
  document.body.appendChild(c);
  return c.getContext('2d');
}

// paints the field from the knot curves, column by column through the scales
function paintField(chart, p) {
  const area = chart.chartArea, xs = chart.scales.x, ys = chart.scales.y;
  const W = Math.round(area.right - area.left), H = Math.round(area.bottom - area.top);
  const off_ = document.createElement('canvas');
  off_.width = W; off_.height = H;
  const g = off_.getContext('2d'), img = g.createImageData(W, H);
  const n = p.radii.length;
  const r = new Array(n), v = new Array(n);
  const lrs = [];
  for (let j = 0; j < H; j++) lrs.push(Math.log10(ys.getValueForPixel(area.top + j + .5)));
  for (let i = 0; i < W; i++) {
    const t = xs.getValueForPixel(area.left + i + .5);
    let a = 0;
    while (a < p.times.length - 2 && t > p.times[a+1]) a++;
    const u = Math.min(1, Math.max(0, (t - p.times[a]) / (p.times[a+1] - p.times[a])));
    for (let k = 0; k < n; k++) {
      const rr = p.radii[k], vv = p.vals[k];
      r[k] = Array.isArray(rr) ? rr[a] + (rr[a+1]-rr[a])*u : rr;
      if (Array.isArray(vv)) {
        v[k] = vv[a]*vv[a+1] < 0 ? (u < .5 ? vv[a] : vv[a+1]) : vv[a] + (vv[a+1]-vv[a])*u;
      } else v[k] = vv;
    }
    // fixed rows stay under the front, everything else is pushed up in order
    if (p.cap) for (let k = 0; k < p.cap; k++) r[k] = Math.min(r[k], r[p.cap]);
    for (let k = 1; k < n; k++) r[k] = Math.max(r[k], r[k-1]);
    let k = n - 2;
    for (let j = 0; j < H; j++) {
      const lr = lrs[j];
      while (k > 0 && lr < r[k]) k--;
      const s = r[k+1] - r[k];
      let f = s > 0 ? Math.min(1, Math.max(0, (lr - r[k]) / s)) : 1;
      let val;
      if (v[k]*v[k+1] < 0) val = f < .5 ? v[k] : v[k+1];
      else val = v[k] + (v[k+1]-v[k])*f;
      const c = val < 0 ? pick(coolLut, (-val - p.min)/(p.max - p.min)) : pick(p.lut, (val - p.min)/(p.max - p.min));
      const o = (j*W + i)*4;
      img.data[o] = c[0]; img.data[o+1] = c[1]; img.data[o+2] = c[2]; img.data[o+3] = 255;
    }
  }
  g.putImageData(img, 0, 0);
  return off_;
}

function line(pairs, color, width, dash, tension) {
  const pts = [];
  for (let i = 0; i < pairs.length; i += 2) pts.push({x: pairs[i], y: Math.pow(10, pairs[i+1])});
  return {data: pts, borderColor: color, borderWidth: width, borderDash: dash || [], pointRadius: 0, tension: tension || 0, fill: false};
}

function panel(o) {
  const [pl, pr, pt, pb] = o.box;
  const xH = o.xH || 0;
  const sup = ['\u2070','\u00b9','\u00b2','\u00b3','\u2074','\u2075'];
  const ctx = addCanvas(pl - o.yW, pt - 20, o.yW + pr - pl + 24, pb - pt + 20 + (xH || 20));
  const field = {radii: o.radii, vals: o.vals, times: o.times, lut: o.lut, min: o.min, max: o.max, cap: o.cap};
  const decades = o.decades.map(d => Math.pow(10, d));
  const plugin = {
    id: 'field',
    beforeDraw(chart) {
      if (!field.img) field.img = paintField(chart, field);
      chart.ctx.drawImage(field.img, chart.chartArea.left, chart.chartArea.top);
    },
    afterDatasetsDraw(chart) {
      const c = chart.ctx, a = chart.chartArea, xs = chart.scales.x, ys = chart.scales.y;
      c.save();
      c.font = '14px ' + serif;
      c.textAlign = 'center'; c.textBaseline = 'middle';
      (o.labels || []).forEach(l => {
        const x = xs.getPixelForValue(l[1]), y = ys.getPixelForValue(Math.pow(10, l[2]));
        const w = c.measureText(l[0]).width + 8, h = 12, ang = (l[3] || 0)*Math.PI/180;
        c.save();
        c.beginPath();
        c.rect(a.left, a.top, a.right - a.left, a.bottom - a.top);
        c.clip();
        c.translate(x, y); c.rotate(ang);
        c.beginPath(); c.rect(-w/2, -h/2, w, h);
        c.rotate(-ang); c.translate(-x, -y);
        c.clip();
        c.drawImage(field.img, a.left, a.top);
        c.translate(x, y); c.rotate(ang);
        c.fillStyle = l[4] || 'rgba(255,255,255,.92)';
        c.fillText(l[0], 0, 0);
        c.restore();
      });
      // inner tick marks on both sides
      c.strokeStyle = '#000'; c.lineWidth = 1;
      c.beginPath();
      for (let d = Math.floor(o.lr[0]); d <= Math.ceil(o.lr[1]); d++) {
        for (let m = 1; m < 10; m++) {
          const val = m*Math.pow(10, d);
          if (val < ys.min || val > ys.max) continue;
          const y = Math.round(ys.getPixelForValue(val)) + .5, len = m === 1 ? 9 : 5;
          c.moveTo(a.left, y); c.lineTo(a.left + len, y);
          c.moveTo(a.right, y); c.lineTo(a.right - len, y);
        }
      }
      c.stroke();
      c.strokeRect(a.left + .5, a.top + .5, a.right - a.left - 1, a.bottom - a.top - 1);
      c.restore();
    }
  };
  const font = {family: serif, size: 17};
  return new Chart(ctx, {
    type: 'line',
    data: {datasets: o.datasets},
    plugins: [plugin],
    options: {
      responsive: false, animation: false, devicePixelRatio: 1, events: [],
      layout: {padding: {top: 20, right: 24, left: 0, bottom: xH ? 0 : 20}},
      plugins: {legend: {display: false}, tooltip: {enabled: false}},
      scales: {
        x: {
          type: 'linear', min: 0, max: o.xMax,
          afterBuildTicks: s => { s.ticks = o.xTicks.map(v => ({value: v})); },
          afterFit: s => { s.height = xH; },
          ticks: {display: !!xH, autoSkip: false, maxRotation: 0, color: '#000', font, padding: 7, callback: v => String(v)},
          grid: {color: '#000', drawTicks: false, lineWidth: 1},
          border: {dash: [2, 2], color: '#000'},
          title: {display: !!xH, text: 't [ms]', color: '#000', font, padding: 0}
        },
        y: {
          type: 'logarithmic', min: Math.pow(10, o.lr[0]), max: Math.pow(10, o.lr[1]),
          afterBuildTicks: s => { s.ticks = decades.map(v => ({value: v})); },
          afterFit: s => { s.width = o.yW; },
          ticks: {
            autoSkip: false, color: '#000', font, padding: 4,
            callback: v => o.sup ? '10' + sup[Math.round(Math.log10(v))] : String(Math.round(v))
          },
          grid: {color: '#000', drawTicks: false, lineWidth: 1},
          border: {dash: [2, 2], color: '#000'},
          title: {display: true, text: 'r [km]', color: '#000', font, padding: 0}
        }
      }
    }
  });
}

function colorBar(left, top, bottom, ticks, labels, lut, runs) {
  const w = 7, padL = 30, padR = 50;
  const ctx = addCanvas(left - padL, top - 12, padL + w + padR, bottom - top + 24);
  const plugin = {
    id: 'bar',
    afterDraw(chart) {
      const c = chart.ctx, a = chart.chartArea, ys = chart.scales.y;
      const lo = ticks[0], hi = ticks[ticks.length-1];
      for (let py = Math.floor(a.top); py < a.bottom; py++) {
        const rgb = pick(lut, (ys.getValueForPixel(py + .5) - lo)/(hi - lo));
        c.fillStyle = 'rgb(' + rgb.join(',') + ')';
        c.fillRect(a.left, py, w, 1);
      }
      c.strokeStyle = '#000'; c.lineWidth = 1.2;
      c.strokeRect(a.left, a.top, w, a.bottom - a.top);
      c.fillStyle = '#000'; c.font = '17px ' + serif;
      c.textAlign = 'left'; c.textBaseline = 'middle';
      ticks.forEach((v, i) => {
        const y = ys.getPixelForValue(v);
        c.beginPath(); c.moveTo(a.left, y); c.lineTo(a.left + 2, y); c.moveTo(a.right - 2, y); c.lineTo(a.right, y); c.stroke();
        c.fillText(labels[i], a.right + 4, Math.max(a.top + 6, Math.min(a.bottom - 6, y)));
      });
      // rotated title, with subscripts
      c.save();
      c.translate(a.left - 21, (a.top + a.bottom)/2);
      c.rotate(-Math.PI/2);
      const size = s => (s ? '12px ' : '17px ') + serif;
      let tw = 0;
      runs.forEach(r => { c.font = size(r[1]); tw += c.measureText(r[0]).width; });
      let x = -tw/2;
      c.textAlign = 'left';
      runs.forEach(r => { c.font = size(r[1]); c.fillText(r[0], x, r[1] ? 4 : 0); x += c.measureText(r[0]).width; });
      c.restore();
    }
  };
  return new Chart(ctx, {
    type: 'line',
    data: {datasets: []},
    plugins: [plugin],
    options: {
      responsive: false, animation: false, devicePixelRatio: 1, events: [],
      layout: {padding: {left: padL, right: padR, top: 12, bottom: 12}},
      plugins: {legend: {display: false}, tooltip: {enabled: false}},
      scales: {
        x: {type: 'linear', display: false, min: 0, max: 1},
        y: {type: 'linear', display: false, min: ticks[0], max: ticks[ticks.length-1]}
      }
    }
  });
}

const WHITE = 'rgba(255,255,255,.92)', GREEN = '#12d412', MAG = '#f010e0', CYAN = '#14e0e8', YEL = '#f5e600', DASHW = 'rgba(255,245,215,.95)';
const whites = list => list.map(l => line(l, WHITE, 1.2, null, .25));
const flats = (list, tMax) => list.map(v => line([0, v, tMax, v], WHITE, 1.2));
const specks = list => list.map(s => line(s[3], s[0], s[2], s[1]));
const cyans = list => list.map(l => line(l, CYAN, 1.2));
const tint = (list, col) => list.map(l => [l[0], l[1], l[2], l[3] === undefined ? 0 : l[3], col]);
const greenLine = g => line(g, GREEN, 1.8, null, .25);
const core = (g, m, d) => [line(m, MAG, 1.8), greenLine(g), line(d, DASHW, 1.4, [6, 4])];

const dec4 = [1,2,3,4], dec5 = [1,2,3,4,5];

panel({box: [87,547,7,286], yW: 78, lr: [.861,4.08], decades: dec4, xMax: 1000, xTicks: t1000Ticks,
  times: aT, radii: aRadii, vals: aVals, lut: entropyLut, min: .29, max: 35.62,
  labels: [['5',22,4.0],['5',656,4.0]].concat(aLabels),
  datasets: core(aGreen, aMagenta, aDash).concat(whites([[0,4.0,1000,3.99]]), whites(aLower))});
panel({box: [87,547,287,567], yW: 78, lr: [.85,4.065], decades: dec4, xMax: 1000, xTicks: t1000Ticks, xH: 48,
  times: aT, radii: cRadii, vals: cVals, lut: heatLut, min: 35, max: 45,
  labels: cLabels,
  datasets: core(aGreen, aMagenta, aDash).concat(whites(cTop), whites([c14,c13,c12]), whites(cFamily), specks(cSpecks))});
panel({box: [758,1217,7,286], yW: 79, lr: [.861,4.08], decades: dec4, xMax: 167.7, xTicks: t168Ticks,
  times: bT, radii: bRadii, vals: bVals, lut: entropyLut, min: .15, max: 4.14,
  labels: bLabels.concat(tint(bCyanLabels, CYAN)),
  datasets: [line(bMagenta, MAG, 1.8), greenLine(bGreen), line(bArc, CYAN, 3, null, .35)].concat(cyans(bCyanThin), [line(bDash, DASHW, 1.4, [6,4])], whites(bWhite))});
panel({box: [758,1217,287,567], yW: 79, lr: [.85,4.065], decades: dec4, xMax: 167.7, xTicks: t168Ticks, xH: 48,
  times: dT, radii: dRadii, vals: dVals, lut: heatLut, min: 35, max: 50, cap: 18,
  labels: dLabels,
  datasets: [line(bMagenta, MAG, 1.8), greenLine(bGreen), line(dYellow, YEL, 1.6), line(bDash, DASHW, 1.4, [6,4])].concat(whites(dWhite), specks(dSpecks))});

panel({box: [87,547,674,950], yW: 56, lr: [.889,5.045], decades: dec5, sup: true, xMax: 1000, xTicks: t1000Ticks,
  times: eT, radii: eRadii, vals: eVals, lut: entropyLut, min: .29, max: 35.62,
  labels: eLabels.concat(aLabels, tint(eCyanLabels, CYAN)),
  datasets: core(aGreen, aMagenta, aDash).concat(cyans(eCyan), whites(eFlat), whites(aLower))});
panel({box: [87,547,954,1232], yW: 56, lr: [.853,5.086], decades: dec5, sup: true, xMax: 1000, xTicks: t1000Ticks, xH: 50,
  times: aT, radii: fRadii, vals: fVals, lut: heatLut, min: 35, max: 48, cap: 23,
  labels: fLabels,
  datasets: core(aGreen, aMagenta, aDash).concat([line(fYellow, YEL, 1.6)], flats(fFlat, 1000), whites(fWhite), whites(cFamily), specks(fSpecks))});
panel({box: [758,1217,674,950], yW: 56, lr: [.889,5.045], decades: dec5, sup: true, xMax: 499.8, xTicks: t500Ticks,
  times: gT, radii: gRadii, vals: gVals, lut: brightLut, min: .15, max: 4.14,
  labels: gLabels.concat(tint(gCyanLabels, CYAN)),
  datasets: core(gGreen, gMagenta, gDash).concat(cyans(gCyan), whites(gWhite))});
panel({box: [758,1217,954,1232], yW: 56, lr: [.853,5.086], decades: dec5, sup: true, xMax: 499.8, xTicks: t500Ticks, xH: 50,
  times: gT, radii: hRadii, vals: hVals, lut: heatLut, min: 35, max: 50, cap: 20,
  labels: hLabels,
  datasets: core(gGreen, gMagenta, gDash).concat([line(hYellow, YEL, 1.6)], flats(hFlat, 500), whites(hWhite), specks(hSpecks))});

const sTitle = [['s [k',0],['B',1],[' / baryon]',0]];
const logTitle = [['log',0],['10',1],['(s/[k',0],['B',1],['/baryon])',0]];
const heatTitle = [['heating [erg / (g s)]',0]];
const coolTitle = [['cooling [erg/ (g s)]',0]];
const sLabels = ['0.29','12.07','23.84','35.62'], logLabels = ['0.15','1.48','2.81','4.14'];

colorBar(580, 7, 259, sTicks, sLabels, entropyLut, sTitle);
colorBar(580, 286, 404, q45Ticks, ['35','38','42','45'], heatLut, heatTitle);
colorBar(580, 450, 567, q45Ticks, ['35','38','42','45'], coolLut, coolTitle);
colorBar(1250, 7, 259, logsTicks, logLabels, entropyLut, logTitle);
colorBar(1250, 286, 404, q50Ticks, ['35','40','45','50'], heatLut, heatTitle);
colorBar(1250, 450, 567, q50Ticks, ['35','40','45','50'], coolLut, coolTitle);
colorBar(580, 674, 927, sTicks, sLabels, entropyLut, sTitle);
colorBar(580, 953, 1070, q48Ticks, ['35','39','44','48'], heatLut, heatTitle);
colorBar(580, 1117, 1232, q48Ticks, ['35','39','44','48'], coolLut, coolTitle);
colorBar(1250, 674, 927, logsTicks, logLabels, entropyLut, logTitle);
colorBar(1250, 953, 1070, q50Ticks, ['35','40','45','50'], heatLut, heatTitle);
colorBar(1250, 1117, 1232, q50Ticks, ['35','40','45','50'], coolLut, coolTitle);
</script>
</body>
</html>
